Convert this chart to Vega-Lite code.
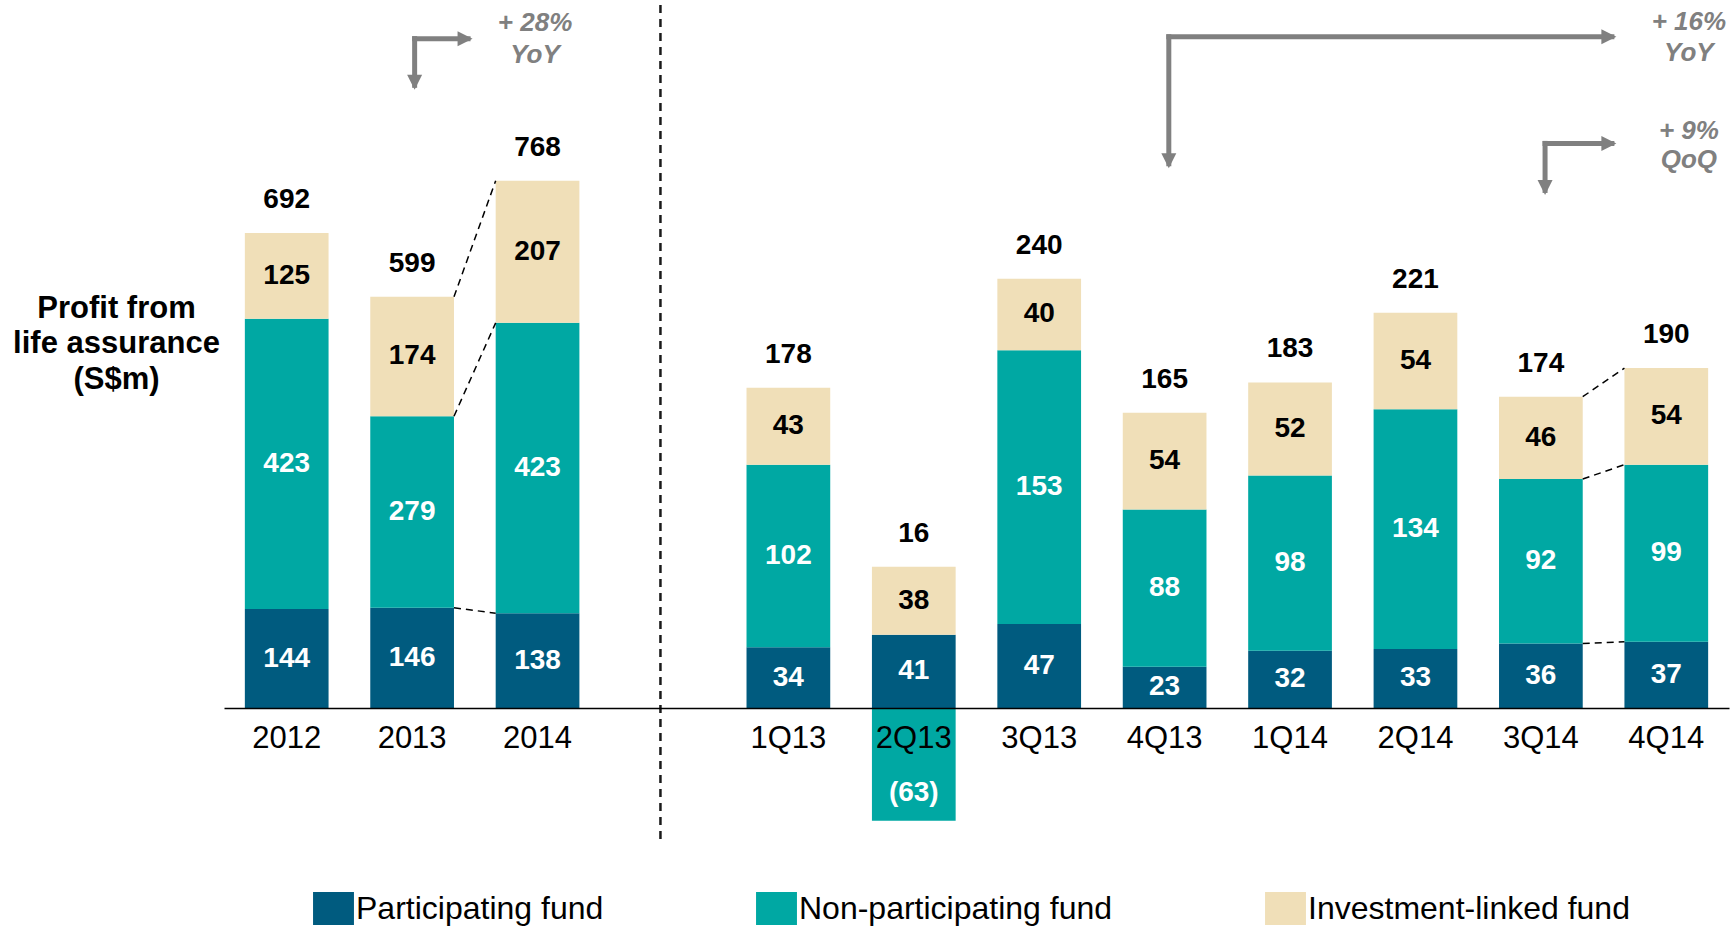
{
  "$schema": "https://vega.github.io/schema/vega-lite/v6.json",
  "width": 1505,
  "height": 840,
  "autosize": {"type": "none"},
  "padding": {"left": 224, "top": 5, "right": 2, "bottom": 82},
  "background": "white",
  "config": {"view": {"stroke": null}, "font": "Liberation Sans"},
  "datasets": {
    "annual": [
      {"cat": "2012", "series": "Participating fund", "value": 144, "total": 692},
      {"cat": "2012", "series": "Non-participating fund", "value": 423, "total": 692},
      {"cat": "2012", "series": "Investment-linked fund", "value": 125, "total": 692},
      {"cat": "2013", "series": "Participating fund", "value": 146, "total": 599},
      {"cat": "2013", "series": "Non-participating fund", "value": 279, "total": 599},
      {"cat": "2013", "series": "Investment-linked fund", "value": 174, "total": 599},
      {"cat": "2014", "series": "Participating fund", "value": 138, "total": 768},
      {"cat": "2014", "series": "Non-participating fund", "value": 423, "total": 768},
      {"cat": "2014", "series": "Investment-linked fund", "value": 207, "total": 768}
    ],
    "quarterly": [
      {"cat": "1Q13", "series": "Participating fund", "value": 34, "total": 178},
      {"cat": "1Q13", "series": "Non-participating fund", "value": 102, "total": 178},
      {"cat": "1Q13", "series": "Investment-linked fund", "value": 43, "total": 178},
      {"cat": "2Q13", "series": "Participating fund", "value": 41, "total": 16},
      {"cat": "2Q13", "series": "Non-participating fund", "value": -63, "total": 16},
      {"cat": "2Q13", "series": "Investment-linked fund", "value": 38, "total": 16},
      {"cat": "3Q13", "series": "Participating fund", "value": 47, "total": 240},
      {"cat": "3Q13", "series": "Non-participating fund", "value": 153, "total": 240},
      {"cat": "3Q13", "series": "Investment-linked fund", "value": 40, "total": 240},
      {"cat": "4Q13", "series": "Participating fund", "value": 23, "total": 165},
      {"cat": "4Q13", "series": "Non-participating fund", "value": 88, "total": 165},
      {"cat": "4Q13", "series": "Investment-linked fund", "value": 54, "total": 165},
      {"cat": "1Q14", "series": "Participating fund", "value": 32, "total": 183},
      {"cat": "1Q14", "series": "Non-participating fund", "value": 98, "total": 183},
      {"cat": "1Q14", "series": "Investment-linked fund", "value": 52, "total": 183},
      {"cat": "2Q14", "series": "Participating fund", "value": 33, "total": 221},
      {"cat": "2Q14", "series": "Non-participating fund", "value": 134, "total": 221},
      {"cat": "2Q14", "series": "Investment-linked fund", "value": 54, "total": 221},
      {"cat": "3Q14", "series": "Participating fund", "value": 36, "total": 174},
      {"cat": "3Q14", "series": "Non-participating fund", "value": 92, "total": 174},
      {"cat": "3Q14", "series": "Investment-linked fund", "value": 46, "total": 174},
      {"cat": "4Q14", "series": "Participating fund", "value": 37, "total": 190},
      {"cat": "4Q14", "series": "Non-participating fund", "value": 99, "total": 190},
      {"cat": "4Q14", "series": "Investment-linked fund", "value": 54, "total": 190}
    ]
  },
  "layer": [
    {
      "layer": [
        {
          "data": {"name": "annual"},
          "mark": {"type": "bar"},
          "encoding": {
            "x": {"field": "cat", "type": "nominal", "scale": {"domain": ["2012", "2013", "2014", " ", "1Q13", "2Q13", "3Q13", "4Q13", "1Q14", "2Q14", "3Q14", "4Q14"], "paddingInner": 0.3325, "paddingOuter": 0.16625},
              "axis": {"title": null, "orient": "bottom", "offset": -137, "zindex": 1, "domainColor": "black", "domainWidth": 1.5, "ticks": false, "tickSize": 0, "labelFontSize": 31, "labelColor": "black", "labelFont": "Liberation Sans", "labelPadding": 15, "labelAngle": 0, "labelBaseline": "top", "grid": false}},
            "y": {"field": "value", "type": "quantitative", "stack": "zero", "scale": {"domain": [-199.6, 1024], "nice": false, "zero": false},
              "axis": {"title": ["Profit from", "life assurance", "(S$m)"], "titleAngle": 0, "titleX": -108, "titleY": 312, "titleAlign": "center", "titleBaseline": "alphabetic", "titleFontSize": 31, "titleFontWeight": "bold", "titleFont": "Liberation Sans", "titleColor": "black", "titleLineHeight": 35.5, "labels": false, "ticks": false, "domain": false, "grid": false}},
            "color": {"field": "series", "type": "nominal", "scale": {"domain": ["Participating fund", "Non-participating fund", "Investment-linked fund"], "range": ["#005b7f", "#00a8a3", "#f0dfb8"]},
              "legend": {"orient": "none", "legendX": 93, "legendY": 887, "direction": "horizontal", "title": null, "symbolType": "M-1.24,-1H1.24V1H-1.24Z", "symbolSize": 1089, "symbolStrokeWidth": 0, "symbolOpacity": 1, "labelFontSize": 32, "labelFont": "Liberation Sans", "labelColor": "black", "labelOffset": 6, "labelLimit": 500, "columnPadding": 152, "padding": 0}},
            "order": {"field": "series", "type": "nominal", "sort": "descending"}
          }
        },
        {
          "data": {"name": "annual"},
          "mark": {"type": "text", "font": "Liberation Sans", "fontSize": 28, "fontWeight": "bold", "baseline": "middle", "align": "center"},
          "encoding": {
            "x": {"field": "cat", "type": "nominal", "scale": {"domain": ["2012", "2013", "2014", " ", "1Q13", "2Q13", "3Q13", "4Q13", "1Q14", "2Q14", "3Q14", "4Q14"], "paddingInner": 0.3325, "paddingOuter": 0.16625}},
            "y": {"field": "value", "type": "quantitative", "stack": "zero", "bandPosition": 0.5, "scale": {"domain": [-199.6, 1024], "nice": false, "zero": false}},
            "detail": {"field": "series", "type": "nominal"},
            "order": {"field": "series", "type": "nominal", "sort": "descending"},
            "text": {"field": "value", "type": "quantitative", "format": "(.0f"},
            "color": {"condition": {"test": "datum.series === 'Investment-linked fund'", "value": "black"}, "value": "white"}
          }
        },
        {
          "data": {"name": "annual"},
          "mark": {"type": "text", "font": "Liberation Sans", "fontSize": 28, "fontWeight": "bold", "baseline": "middle", "align": "center", "dy": -33, "color": "black"},
          "encoding": {
            "x": {"field": "cat", "type": "nominal", "scale": {"domain": ["2012", "2013", "2014", " ", "1Q13", "2Q13", "3Q13", "4Q13", "1Q14", "2Q14", "3Q14", "4Q14"], "paddingInner": 0.3325, "paddingOuter": 0.16625}},
            "y": {"field": "value", "type": "quantitative", "stack": "zero", "scale": {"domain": [-199.6, 1024], "nice": false, "zero": false}},
            "detail": {"field": "series", "type": "nominal"},
            "order": {"field": "series", "type": "nominal", "sort": "descending"},
            "text": {"condition": {"test": "datum.series === 'Investment-linked fund'", "field": "total", "type": "quantitative"}, "value": ""}
          }
        },
        {
          "data": {"values": [
            {"from": "2013", "to": "2014", "y1": 599, "y2": 768},
            {"from": "2013", "to": "2014", "y1": 425, "y2": 561},
            {"from": "2013", "to": "2014", "y1": 146, "y2": 138}
          ]},
          "mark": {"type": "rule", "color": "black", "strokeWidth": 1.5, "strokeDash": [7, 5]},
          "encoding": {
            "x": {"field": "from", "type": "nominal", "bandPosition": 1, "scale": {"domain": ["2012", "2013", "2014", " ", "1Q13", "2Q13", "3Q13", "4Q13", "1Q14", "2Q14", "3Q14", "4Q14"], "paddingInner": 0.3325, "paddingOuter": 0.16625}},
            "x2": {"field": "to", "bandPosition": 0},
            "y": {"field": "y1", "type": "quantitative", "scale": {"domain": [-199.6, 1024], "nice": false, "zero": false}},
            "y2": {"field": "y2"}
          }
        },
        {
          "data": {"values": [{"cat": " ", "top": 1024, "bottom": -191}]},
          "mark": {"type": "rule", "color": "#1a1a1a", "strokeWidth": 2.5, "strokeDash": [8, 6]},
          "encoding": {
            "x": {"field": "cat", "type": "nominal", "bandPosition": 0.47, "scale": {"domain": ["2012", "2013", "2014", " ", "1Q13", "2Q13", "3Q13", "4Q13", "1Q14", "2Q14", "3Q14", "4Q14"], "paddingInner": 0.3325, "paddingOuter": 0.16625}},
            "y": {"field": "top", "type": "quantitative", "scale": {"domain": [-199.6, 1024], "nice": false, "zero": false}},
            "y2": {"field": "bottom"}
          }
        },
        {
          "data": {"values": [{"from": "2013", "to": "2014", "y": 975}]},
          "mark": {"type": "rule", "color": "#808080", "strokeWidth": 5, "strokeCap": "square"},
          "encoding": {
            "x": {"field": "from", "type": "nominal", "bandPosition": 0.53, "scale": {"domain": ["2012", "2013", "2014", " ", "1Q13", "2Q13", "3Q13", "4Q13", "1Q14", "2Q14", "3Q14", "4Q14"], "paddingInner": 0.3325, "paddingOuter": 0.16625}},
            "x2": {"field": "to", "bandPosition": -0.33},
            "y": {"field": "y", "type": "quantitative", "scale": {"domain": [-199.6, 1024], "nice": false, "zero": false}}
          }
        },
        {
          "data": {"values": [{"cat": "2013", "y1": 975, "y2": 907}]},
          "mark": {"type": "rule", "color": "#808080", "strokeWidth": 5, "strokeCap": "square"},
          "encoding": {
            "x": {"field": "cat", "type": "nominal", "bandPosition": 0.53, "scale": {"domain": ["2012", "2013", "2014", " ", "1Q13", "2Q13", "3Q13", "4Q13", "1Q14", "2Q14", "3Q14", "4Q14"], "paddingInner": 0.3325, "paddingOuter": 0.16625}},
            "y": {"field": "y1", "type": "quantitative", "scale": {"domain": [-199.6, 1024], "nice": false, "zero": false}},
            "y2": {"field": "y2"}
          }
        },
        {
          "data": {"values": [{"cat": "2014", "y": 975}]},
          "mark": {"type": "point", "shape": "M0.3,0L-0.7,-0.5L-0.7,0.5Z", "filled": true, "size": 900, "color": "#808080", "opacity": 1, "strokeWidth": 0},
          "encoding": {
            "x": {"field": "cat", "type": "nominal", "bandPosition": -0.33, "scale": {"domain": ["2012", "2013", "2014", " ", "1Q13", "2Q13", "3Q13", "4Q13", "1Q14", "2Q14", "3Q14", "4Q14"], "paddingInner": 0.3325, "paddingOuter": 0.16625}},
            "y": {"field": "y", "type": "quantitative", "scale": {"domain": [-199.6, 1024], "nice": false, "zero": false}}
          }
        },
        {
          "data": {"values": [{"cat": "2013", "y": 907}]},
          "mark": {"type": "point", "shape": "M0,0.3L-0.5,-0.7L0.5,-0.7Z", "filled": true, "size": 900, "color": "#808080", "opacity": 1, "strokeWidth": 0},
          "encoding": {
            "x": {"field": "cat", "type": "nominal", "bandPosition": 0.53, "scale": {"domain": ["2012", "2013", "2014", " ", "1Q13", "2Q13", "3Q13", "4Q13", "1Q14", "2Q14", "3Q14", "4Q14"], "paddingInner": 0.3325, "paddingOuter": 0.16625}},
            "y": {"field": "y", "type": "quantitative", "scale": {"domain": [-199.6, 1024], "nice": false, "zero": false}}
          }
        },
        {
          "data": {"values": [{"cat": "2014", "y": 997.4, "label": "+ 28%"}, {"cat": "2014", "y": 951.2, "label": "YoY"}]},
          "mark": {"type": "text", "font": "Liberation Sans", "fontSize": 26, "fontWeight": "bold", "fontStyle": "italic", "color": "#808080", "baseline": "middle", "align": "center"},
          "encoding": {
            "x": {"field": "cat", "type": "nominal", "bandPosition": 0.47, "scale": {"domain": ["2012", "2013", "2014", " ", "1Q13", "2Q13", "3Q13", "4Q13", "1Q14", "2Q14", "3Q14", "4Q14"], "paddingInner": 0.3325, "paddingOuter": 0.16625}},
            "y": {"field": "y", "type": "quantitative", "scale": {"domain": [-199.6, 1024], "nice": false, "zero": false}},
            "text": {"field": "label", "type": "nominal"}
          }
        }
      ]
    },
    {
      "layer": [
        {
          "data": {"name": "quarterly"},
          "mark": {"type": "bar"},
          "encoding": {
            "x": {"field": "cat", "type": "nominal", "scale": {"domain": ["2012", "2013", "2014", " ", "1Q13", "2Q13", "3Q13", "4Q13", "1Q14", "2Q14", "3Q14", "4Q14"], "paddingInner": 0.3325, "paddingOuter": 0.16625},
              "axis": {"title": null, "orient": "bottom", "offset": -137, "zindex": 1, "domainColor": "black", "domainWidth": 1.5, "ticks": false, "tickSize": 0, "labelFontSize": 31, "labelColor": "black", "labelFont": "Liberation Sans", "labelPadding": 15, "labelAngle": 0, "labelBaseline": "top", "grid": false}},
            "y": {"field": "value", "type": "quantitative", "stack": "zero", "scale": {"domain": [-76.58, 392.96], "nice": false, "zero": false}, "axis": null},
            "color": {"field": "series", "type": "nominal", "scale": {"domain": ["Participating fund", "Non-participating fund", "Investment-linked fund"], "range": ["#005b7f", "#00a8a3", "#f0dfb8"]},
              "legend": {"orient": "none", "legendX": 93, "legendY": 887, "direction": "horizontal", "title": null, "symbolType": "M-1.24,-1H1.24V1H-1.24Z", "symbolSize": 1089, "symbolStrokeWidth": 0, "symbolOpacity": 1, "labelFontSize": 32, "labelFont": "Liberation Sans", "labelColor": "black", "labelOffset": 6, "labelLimit": 500, "columnPadding": 152, "padding": 0}},
            "order": {"field": "series", "type": "nominal", "sort": "descending"}
          }
        },
        {
          "data": {"name": "quarterly"},
          "mark": {"type": "text", "font": "Liberation Sans", "fontSize": 28, "fontWeight": "bold", "baseline": "middle", "align": "center"},
          "encoding": {
            "x": {"field": "cat", "type": "nominal", "scale": {"domain": ["2012", "2013", "2014", " ", "1Q13", "2Q13", "3Q13", "4Q13", "1Q14", "2Q14", "3Q14", "4Q14"], "paddingInner": 0.3325, "paddingOuter": 0.16625}},
            "y": {"field": "value", "type": "quantitative", "stack": "zero", "bandPosition": 0.5, "scale": {"domain": [-76.58, 392.96], "nice": false, "zero": false}, "axis": null},
            "detail": {"field": "series", "type": "nominal"},
            "order": {"field": "series", "type": "nominal", "sort": "descending"},
            "text": {"condition": {"test": "datum.value >= 0", "field": "value", "type": "quantitative", "format": "(.0f"}, "value": ""},
            "color": {"condition": {"test": "datum.series === 'Investment-linked fund'", "value": "black"}, "value": "white"}
          }
        },
        {
          "data": {"name": "quarterly"},
          "mark": {"type": "text", "font": "Liberation Sans", "fontSize": 28, "fontWeight": "bold", "baseline": "middle", "align": "center", "color": "white"},
          "encoding": {
            "x": {"field": "cat", "type": "nominal", "scale": {"domain": ["2012", "2013", "2014", " ", "1Q13", "2Q13", "3Q13", "4Q13", "1Q14", "2Q14", "3Q14", "4Q14"], "paddingInner": 0.3325, "paddingOuter": 0.16625}},
            "y": {"field": "value", "type": "quantitative", "stack": "zero", "bandPosition": 0.75, "scale": {"domain": [-76.58, 392.96], "nice": false, "zero": false}, "axis": null},
            "detail": {"field": "series", "type": "nominal"},
            "order": {"field": "series", "type": "nominal", "sort": "descending"},
            "text": {"condition": {"test": "datum.value < 0", "field": "value", "type": "quantitative", "format": "(.0f"}, "value": ""}
          }
        },
        {
          "data": {"name": "quarterly"},
          "mark": {"type": "text", "font": "Liberation Sans", "fontSize": 28, "fontWeight": "bold", "baseline": "middle", "align": "center", "dy": -33, "color": "black"},
          "encoding": {
            "x": {"field": "cat", "type": "nominal", "scale": {"domain": ["2012", "2013", "2014", " ", "1Q13", "2Q13", "3Q13", "4Q13", "1Q14", "2Q14", "3Q14", "4Q14"], "paddingInner": 0.3325, "paddingOuter": 0.16625}},
            "y": {"field": "value", "type": "quantitative", "stack": "zero", "scale": {"domain": [-76.58, 392.96], "nice": false, "zero": false}, "axis": null},
            "detail": {"field": "series", "type": "nominal"},
            "order": {"field": "series", "type": "nominal", "sort": "descending"},
            "text": {"condition": {"test": "datum.series === 'Investment-linked fund'", "field": "total", "type": "quantitative"}, "value": ""}
          }
        },
        {
          "data": {"values": [
            {"from": "3Q14", "to": "4Q14", "y1": 174, "y2": 190},
            {"from": "3Q14", "to": "4Q14", "y1": 128, "y2": 136},
            {"from": "3Q14", "to": "4Q14", "y1": 36, "y2": 37}
          ]},
          "mark": {"type": "rule", "color": "black", "strokeWidth": 1.5, "strokeDash": [7, 5]},
          "encoding": {
            "x": {"field": "from", "type": "nominal", "bandPosition": 1, "scale": {"domain": ["2012", "2013", "2014", " ", "1Q13", "2Q13", "3Q13", "4Q13", "1Q14", "2Q14", "3Q14", "4Q14"], "paddingInner": 0.3325, "paddingOuter": 0.16625}},
            "x2": {"field": "to", "bandPosition": 0},
            "y": {"field": "y1", "type": "quantitative", "scale": {"domain": [-76.58, 392.96], "nice": false, "zero": false}, "axis": null},
            "y2": {"field": "y2"}
          }
        },
        {
          "data": {"values": [{"from": "4Q13", "to": "4Q14", "y": 375.2}, {"from": "3Q14", "to": "4Q14", "y": 315.6}]},
          "mark": {"type": "rule", "color": "#808080", "strokeWidth": 5, "strokeCap": "square"},
          "encoding": {
            "x": {"field": "from", "type": "nominal", "bandPosition": 0.55, "scale": {"domain": ["2012", "2013", "2014", " ", "1Q13", "2Q13", "3Q13", "4Q13", "1Q14", "2Q14", "3Q14", "4Q14"], "paddingInner": 0.3325, "paddingOuter": 0.16625}},
            "x2": {"field": "to", "bandPosition": -0.15},
            "y": {"field": "y", "type": "quantitative", "scale": {"domain": [-76.58, 392.96], "nice": false, "zero": false}, "axis": null}
          }
        },
        {
          "data": {"values": [{"cat": "4Q13", "y1": 375.2, "y2": 304.2}, {"cat": "3Q14", "y1": 315.6, "y2": 289.3}]},
          "mark": {"type": "rule", "color": "#808080", "strokeWidth": 5, "strokeCap": "square"},
          "encoding": {
            "x": {"field": "cat", "type": "nominal", "bandPosition": 0.55, "scale": {"domain": ["2012", "2013", "2014", " ", "1Q13", "2Q13", "3Q13", "4Q13", "1Q14", "2Q14", "3Q14", "4Q14"], "paddingInner": 0.3325, "paddingOuter": 0.16625}},
            "y": {"field": "y1", "type": "quantitative", "scale": {"domain": [-76.58, 392.96], "nice": false, "zero": false}, "axis": null},
            "y2": {"field": "y2"}
          }
        },
        {
          "data": {"values": [{"cat": "4Q14", "y": 375.2}, {"cat": "4Q14", "y": 315.6}]},
          "mark": {"type": "point", "shape": "M0.3,0L-0.7,-0.5L-0.7,0.5Z", "filled": true, "size": 900, "color": "#808080", "opacity": 1, "strokeWidth": 0},
          "encoding": {
            "x": {"field": "cat", "type": "nominal", "bandPosition": -0.15, "scale": {"domain": ["2012", "2013", "2014", " ", "1Q13", "2Q13", "3Q13", "4Q13", "1Q14", "2Q14", "3Q14", "4Q14"], "paddingInner": 0.3325, "paddingOuter": 0.16625}},
            "y": {"field": "y", "type": "quantitative", "scale": {"domain": [-76.58, 392.96], "nice": false, "zero": false}, "axis": null}
          }
        },
        {
          "data": {"values": [{"cat": "4Q13", "y": 304.2}, {"cat": "3Q14", "y": 289.3}]},
          "mark": {"type": "point", "shape": "M0,0.3L-0.5,-0.7L0.5,-0.7Z", "filled": true, "size": 900, "color": "#808080", "opacity": 1, "strokeWidth": 0},
          "encoding": {
            "x": {"field": "cat", "type": "nominal", "bandPosition": 0.55, "scale": {"domain": ["2012", "2013", "2014", " ", "1Q13", "2Q13", "3Q13", "4Q13", "1Q14", "2Q14", "3Q14", "4Q14"], "paddingInner": 0.3325, "paddingOuter": 0.16625}},
            "y": {"field": "y", "type": "quantitative", "scale": {"domain": [-76.58, 392.96], "nice": false, "zero": false}, "axis": null}
          }
        },
        {
          "data": {"values": [
            {"cat": "4Q14", "y": 383.6, "label": "+ 16%"},
            {"cat": "4Q14", "y": 366.1, "label": "YoY"},
            {"cat": "4Q14", "y": 322.7, "label": "+ 9%"},
            {"cat": "4Q14", "y": 306.3, "label": "QoQ"}
          ]},
          "mark": {"type": "text", "font": "Liberation Sans", "fontSize": 26, "fontWeight": "bold", "fontStyle": "italic", "color": "#808080", "baseline": "middle", "align": "center"},
          "encoding": {
            "x": {"field": "cat", "type": "nominal", "bandPosition": 0.77, "scale": {"domain": ["2012", "2013", "2014", " ", "1Q13", "2Q13", "3Q13", "4Q13", "1Q14", "2Q14", "3Q14", "4Q14"], "paddingInner": 0.3325, "paddingOuter": 0.16625}},
            "y": {"field": "y", "type": "quantitative", "scale": {"domain": [-76.58, 392.96], "nice": false, "zero": false}, "axis": null},
            "text": {"field": "label", "type": "nominal"}
          }
        }
      ]
    }
  ],
  "resolve": {"scale": {"y": "independent"}, "axis": {"y": "independent"}}
}
